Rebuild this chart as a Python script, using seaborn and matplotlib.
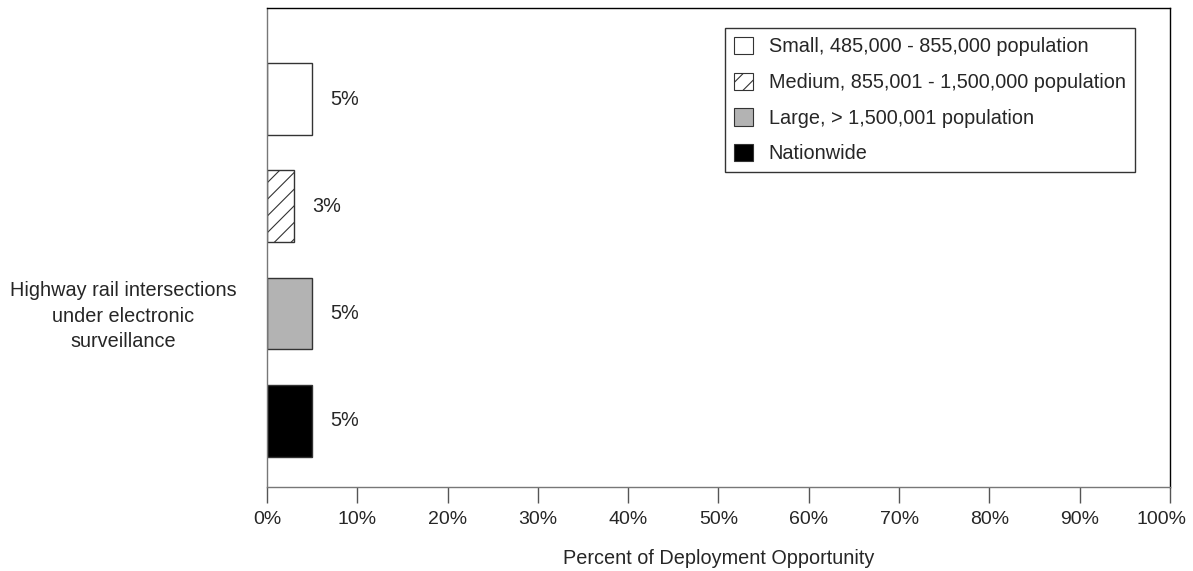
import pandas as pd
import seaborn as sns
import matplotlib.pyplot as plt
import matplotlib.transforms as mtransforms
from matplotlib.patches import Patch

# data
groups = ['Small, 485,000 - 855,000 population',
          'Medium, 855,001 - 1,500,000 population',
          'Large, > 1,500,001 population',
          'Nationwide']
values = [5, 3, 5, 5]
colors = ['white', 'white', '#b3b3b3', 'black']
hatches = ['', '//', '', '']
category = 'Highway rail intersections\nunder electronic\nsurveillance'

df = pd.DataFrame({'group': groups, 'pct': values})

sns.set_style('white')
plt.rcParams['font.family'] = ['Liberation Sans', 'DejaVu Sans']
plt.rcParams['hatch.linewidth'] = 0.8
fs = 14.3

fig, ax = plt.subplots(figsize=(11.93, 5.71), dpi=100)
fig.subplots_adjust(left=0.2238, right=0.9807, top=0.986, bottom=0.147)

sns.barplot(data=df, x='pct', y='group', hue='group', palette=colors,
            width=0.67, edgecolor='#333333', linewidth=1, legend=False, ax=ax)

for bar, h in zip(ax.patches, hatches):
    bar.set_hatch(h)

for i, v in enumerate(values):
    ax.annotate(f'{v}%', xy=(v, i), xytext=(13, 0), textcoords='offset points',
                va='center', ha='left', fontsize=fs)

ax.set_xlim(0, 100)
ax.set_ylim(3.62, -0.85)
ax.set_xticks(range(0, 101, 10))
ax.set_xticklabels([f'{t}%' for t in range(0, 101, 10)], fontsize=14)
ax.set_yticks([])
ax.set_ylabel('')
ax.set_xlabel('Percent of Deployment Opportunity', fontsize=fs, labelpad=15)
ax.tick_params(axis='x', bottom=True, direction='out', length=11.5, width=1,
               color='#555555', pad=6)

# last tick label sits a bit left of its tick, as in the original
last = ax.get_xticklabels()[-1]
last.set_transform(last.get_transform() +
                   mtransforms.ScaledTranslation(-8 / 100, 0, fig.dpi_scale_trans))

for side in ['left', 'bottom']:
    ax.spines[side].set_color('#777777')
for side in ['top', 'right']:
    ax.spines[side].set_color('black')
for s in ax.spines.values():
    s.set_linewidth(1)

ax.text(-0.159, 0.357, category, transform=ax.transAxes, ha='center', va='center',
        fontsize=fs, linespacing=1.45)

handles = [Patch(facecolor=c, edgecolor='#333333', hatch=h, linewidth=0.8)
           for c, h in zip(colors, hatches)]
leg = ax.legend(handles, groups, loc='upper right', bbox_to_anchor=(0.961, 0.958),
                fontsize=fs, frameon=True, fancybox=False, edgecolor='black',
                handlelength=0.95, handleheight=0.95, labelspacing=0.82,
                borderpad=0.45, handletextpad=0.8, borderaxespad=0)
leg.get_frame().set_linewidth(1)

fig.savefig('out.png', dpi=100)
